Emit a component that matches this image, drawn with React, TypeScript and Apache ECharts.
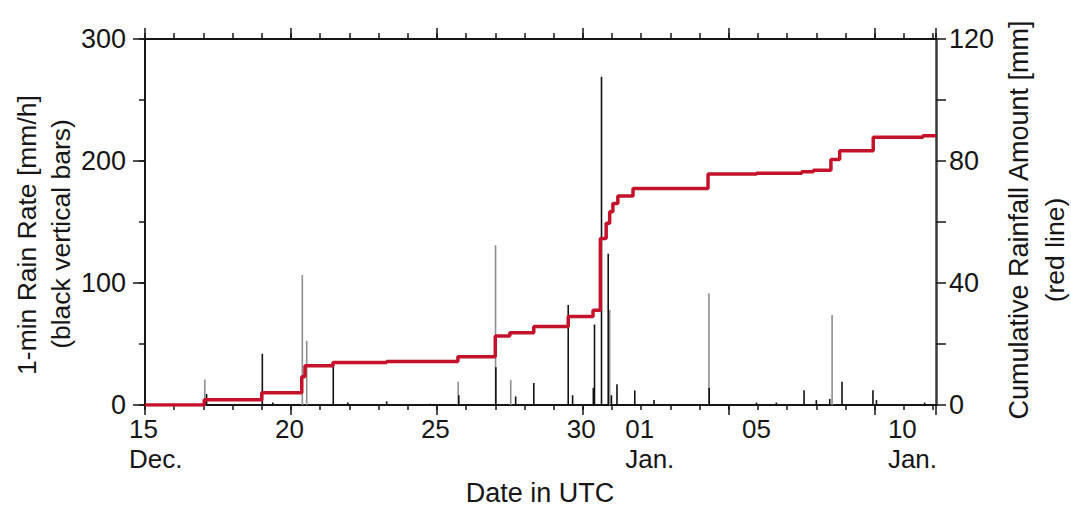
import { useEffect, useRef } from 'react';
import * as echarts from 'echarts';

const FONT = '"Liberation Sans", Arial, Helvetica, sans-serif';
const INK = '#161616';

// x values are days since 15 Dec 00:00 UTC
const xLabelDays = [0, 5, 10, 15, 17, 21, 26];
const xLabelTexts = ['15', '20', '25', '30', '01', '05', '10'];
const monthLabelDays = [0, 17, 26];
const monthLabelTexts = ['Dec.', 'Jan.', 'Jan.'];
const rateLabels = [0, 100, 200, 300];
const cumLabels = [0, 40, 80, 120];

// cumulative rainfall [mm] (time of step, new total)
const cumulative: [number, number][] = [
  [0, 0], [2.03, 1.7], [4.0, 4.0], [5.37, 9.3], [5.48, 12.9], [6.44, 13.9],
  [8.28, 14.3], [10.72, 15.8], [12.0, 22.6], [12.5, 23.7], [13.32, 25.7],
  [14.5, 29.0], [15.35, 31.1], [15.6, 54.6], [15.8, 59.6], [15.92, 63.4],
  [16.03, 66.1], [16.2, 68.5], [16.72, 71.0], [19.29, 75.7], [20.95, 76.0],
  [22.5, 76.5], [22.9, 77.0], [23.5, 80.5], [23.8, 83.4], [24.95, 87.8],
  [26.65, 88.3], [27.1, 88.3],
];

// 1-min rain rate [mm/h], thin grey spikes
const grayBars: [number, number][] = [
  [2.05, 21], [5.39, 106.5], [5.54, 52.7], [10.73, 19], [12.01, 131],
  [12.53, 20.5], [15.92, 78], [19.32, 91.5], [23.54, 73.8],
];

// 1-min rain rate [mm/h], black bars
const blackBars: [number, number][] = [
  [2.11, 9], [4.02, 42], [4.38, 2], [6.45, 35], [6.95, 2], [8.28, 3],
  [9.76, 1], [10.75, 8], [12.02, 31], [12.7, 7], [13.32, 18], [14.5, 82],
  [14.65, 8], [15.36, 14], [15.4, 66], [15.64, 269], [15.87, 124],
  [15.98, 8], [16.17, 17], [16.78, 12], [17.44, 4], [19.33, 14],
  [20.95, 2], [21.63, 2], [22.58, 12], [23.0, 4], [23.46, 5], [23.88, 19],
  [24.94, 12], [25.06, 4], [26.71, 2],
];

const X_MAX = 27.1;

export default function App() {
  const ref = useRef<HTMLDivElement>(null);

  useEffect(() => {
    if (!ref.current) return;
    const chart = echarts.init(ref.current, undefined, { renderer: 'svg' });

    const axisLine = { show: true, onZero: false, lineStyle: { color: INK, width: 2 } };
    const noLine = { show: false, onZero: false };
    const tickStyle = { color: INK, width: 1.5 };

    const makeFormatter = (days: number[], texts: string[]) => (v: number) => {
      const r = Math.round(v);
      if (Math.abs(v - r) > 0.01) return '';
      const i = days.indexOf(r);
      if (i < 0) return '';
      return `{a|${texts[i]}}`;
    };
    const rich = {
      a: { width: 32, align: 'left', fontSize: 26, lineHeight: 26, fontFamily: FONT, color: INK },
    };

    const xBase = { type: 'value', min: 0, max: X_MAX, splitLine: { show: false }, offset: 0 };

    chart.setOption({
      animation: false,
      backgroundColor: '#ffffff',
      grid: { left: 145, right: 135, top: 39, bottom: 102, containLabel: false },
      xAxis: [
        {
          ...xBase,
          position: 'bottom',
          interval: 1,
          axisLine,
          axisTick: { show: true, inside: false, length: 5, lineStyle: tickStyle },
          axisLabel: {
            show: true,
            margin: 11,
            showMinLabel: true,
            showMaxLabel: false,
            formatter: makeFormatter(xLabelDays, xLabelTexts),
            rich,
          },
        },
        {
          ...xBase,
          position: 'bottom',
          interval: 5,
          axisLine: noLine,
          axisTick: { show: true, inside: false, length: 10, lineStyle: tickStyle },
          axisLabel: { show: false },
        },
        {
          ...xBase,
          position: 'top',
          interval: 1,
          axisLine,
          axisTick: { show: true, inside: false, length: 6, lineStyle: tickStyle },
          axisLabel: { show: false },
        },
        {
          ...xBase,
          position: 'top',
          interval: 5,
          axisLine: noLine,
          axisTick: { show: true, inside: false, length: 11, lineStyle: tickStyle },
          axisLabel: { show: false },
        },
        {
          ...xBase,
          position: 'bottom',
          interval: 1,
          axisLine: noLine,
          axisTick: { show: false },
          axisLabel: {
            show: true,
            margin: 41,
            showMinLabel: true,
            showMaxLabel: false,
            formatter: makeFormatter(monthLabelDays, monthLabelTexts),
            rich,
          },
        },
      ],
      yAxis: [
        {
          type: 'value',
          position: 'left',
          min: 0,
          max: 300,
          interval: 100,
          offset: 0,
          splitLine: { show: false },
          axisLine,
          axisTick: { show: true, inside: false, length: 12, lineStyle: tickStyle },
          axisLabel: {
            show: true,
            margin: 19,
            fontSize: 27,
            fontFamily: FONT,
            color: INK,
            formatter: (v: number) => (rateLabels.includes(v) ? String(v) : ''),
          },
        },
        {
          type: 'value',
          position: 'left',
          min: 0,
          max: 300,
          interval: 50,
          offset: 0,
          splitLine: { show: false },
          axisLine: noLine,
          axisTick: { show: true, inside: false, length: 6, lineStyle: tickStyle },
          axisLabel: { show: false },
        },
        {
          type: 'value',
          position: 'right',
          min: 0,
          max: 120,
          interval: 20,
          offset: 0,
          splitLine: { show: false },
          axisLine: { show: true, onZero: false, lineStyle: { color: '#3a3a3a', width: 2.5 } },
          axisTick: { show: true, inside: false, length: 10, lineStyle: tickStyle },
          axisLabel: {
            show: true,
            margin: 13,
            fontSize: 27,
            fontFamily: FONT,
            color: INK,
            formatter: (v: number) => (cumLabels.includes(v) ? String(v) : ''),
          },
        },
      ],
      series: [
        {
          type: 'bar',
          xAxisIndex: 0,
          yAxisIndex: 0,
          barWidth: 1.6,
          z: 2,
          data: [
            ...grayBars.map((d) => ({ value: d, itemStyle: { color: '#8e8e8e' } })),
            ...blackBars.map((d) => ({ value: d, itemStyle: { color: '#111111' } })),
          ],
        },
        {
          type: 'line',
          xAxisIndex: 0,
          yAxisIndex: 2,
          step: 'end',
          showSymbol: false,
          z: 3,
          lineStyle: { color: '#c4122b', width: 3.5 },
          data: cumulative,
        },
      ],
      graphic: [
        {
          type: 'text',
          x: 27,
          y: 235,
          rotation: Math.PI / 2,
          style: { text: '1-min Rain Rate [mm/h]', fontSize: 26.5, fontFamily: FONT, fill: INK, align: 'center', verticalAlign: 'middle' },
        },
        {
          type: 'text',
          x: 61,
          y: 234,
          rotation: Math.PI / 2,
          style: { text: '(black vertical bars)', fontSize: 26.5, fontFamily: FONT, fill: INK, align: 'center', verticalAlign: 'middle' },
        },
        {
          type: 'text',
          x: 1019,
          y: 220,
          rotation: Math.PI / 2,
          style: { text: 'Cumulative Rainfall Amount [mm]', fontSize: 27, fontFamily: FONT, fill: INK, align: 'center', verticalAlign: 'middle' },
        },
        {
          type: 'text',
          x: 1055,
          y: 250,
          rotation: Math.PI / 2,
          style: { text: '(red line)', fontSize: 26.5, fontFamily: FONT, fill: INK, align: 'center', verticalAlign: 'middle' },
        },
        {
          type: 'text',
          x: 540,
          y: 493,
          style: { text: 'Date in UTC', fontSize: 27, fontFamily: FONT, fill: INK, align: 'center', verticalAlign: 'middle' },
        },
      ],
    });

    return () => chart.dispose();
  }, []);

  return (
    <div
      ref={ref}
      style={{ position: 'absolute', left: 0, top: 0, width: 1071, height: 507, background: '#fff' }}
    />
  );
}
